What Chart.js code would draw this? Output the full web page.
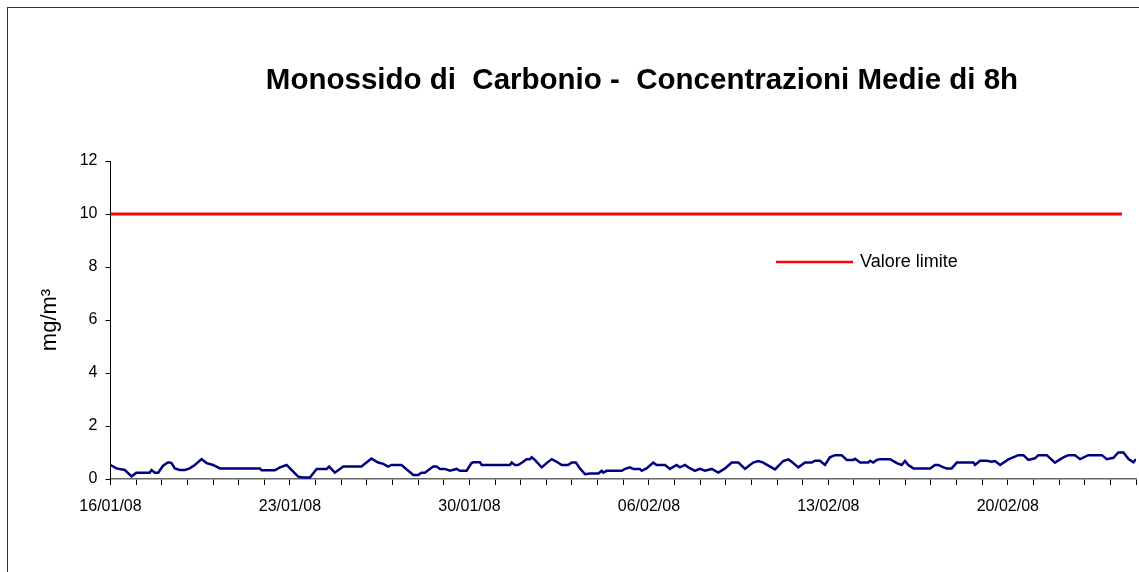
<!DOCTYPE html>
<html>
<head>
<meta charset="utf-8">
<script src="https://cdn.jsdelivr.net/npm/chart.js@4.4.1/dist/chart.umd.min.js"></script>
<style>
  html, body { margin: 0; padding: 0; background: #fff; }
  #wrap { position: relative; width: 1139px; height: 572px; }
</style>
</head>
<body>
<div id="wrap"><canvas id="c"></canvas></div>
<script>
// ---- data (x in days since 16/01/08) ----
const chartTitle = 'Monossido di  Carbonio -  Concentrazioni Medie di 8h';
const yAxisTitle = 'mg/m\u00B3';
const seriesName = 'CO';
const limitName = 'Valore limite';
const xTickLabels = ['16/01/08', '23/01/08', '30/01/08', '06/02/08', '13/02/08', '20/02/08'];
const yTicks = [0, 2, 4, 6, 8, 10, 12];

const coDays = [0,0.23,0.56,0.82,1.01,1.53,1.6,1.73,1.86,2.05,2.25,2.38,2.51,2.7,2.9,3.09,3.29,3.55,3.75,4,4.27,5.83,5.89,6.41,6.61,6.87,7.06,7.32,7.52,7.78,8.04,8.43,8.53,8.75,9.08,9.79,10.18,10.44,10.64,10.83,10.96,11.35,11.81,12,12.13,12.26,12.59,12.72,12.85,13.04,13.24,
13.5,13.63,13.89,14.08,14.15,14.41,14.48,15.58,15.65,15.77,15.9,16.1,16.23,16.36,16.43,16.55,16.82,17.01,17.21,17.4,17.6,17.85,17.99,18.15,18.31,18.51,18.7,19.03,19.16,19.22,19.35,19.94,20.07,20.26,20.39,20.65,20.72,20.91,21.17,21.3,21.63,21.82,22.08,22.21,22.41,22.54,22.8,22.99,23.19,23.45,23.71,23.97,24.23,24.49,24.75,24.94,25.07,25.27,25.46,25.85,
25.92,26.24,26.44,26.57,26.83,27.09,27.35,27.48,27.67,27.87,28.06,28.26,28.52,28.72,28.97,29.04,29.24,29.56,29.63,29.75,29.89,30.02,30.41,30.67,30.86,30.99,31.12,31.32,31.97,32.16,32.29,32.49,32.62,32.81,33.01,33.66,33.72,33.92,34.18,34.37,34.5,34.7,35.02,35.41,35.61,35.8,36.06,36.19,36.52,36.84,37.1,37.23,37.36,37.62,37.82,38.14,38.67,38.86,39.12,39.31,39.51,39.71,39.9,40];
const coValues = [0.53,0.40,0.34,0.10,0.24,0.24,0.34,0.24,0.24,0.50,0.63,0.60,0.40,0.34,0.34,0.40,0.53,0.75,0.60,0.53,0.40,0.40,0.33,0.33,0.44,0.53,0.34,0.09,0.06,0.06,0.38,0.38,0.47,0.24,0.47,0.47,0.77,0.62,0.57,0.47,0.53,0.53,0.15,0.15,0.24,0.24,0.47,0.47,0.38,0.38,0.31,
0.38,0.31,0.31,0.60,0.63,0.63,0.53,0.53,0.62,0.53,0.53,0.65,0.75,0.75,0.82,0.72,0.44,0.60,0.75,0.65,0.53,0.53,0.62,0.62,0.40,0.18,0.21,0.21,0.31,0.24,0.31,0.31,0.38,0.44,0.38,0.38,0.31,0.40,0.62,0.53,0.53,0.38,0.53,0.44,0.53,0.44,0.31,0.38,0.31,0.38,0.24,0.40,0.62,0.62,0.38,0.53,0.62,0.68,0.62,0.40,
0.36,0.68,0.74,0.65,0.44,0.62,0.62,0.69,0.69,0.53,0.82,0.90,0.90,0.72,0.72,0.76,0.62,0.62,0.69,0.62,0.72,0.75,0.75,0.60,0.53,0.68,0.53,0.40,0.40,0.53,0.53,0.44,0.40,0.40,0.62,0.62,0.53,0.69,0.69,0.65,0.68,0.53,0.74,0.90,0.90,0.72,0.78,0.90,0.90,0.62,0.78,0.84,0.90,0.90,0.75,0.90,0.90,0.75,0.80,1.00,1.00,0.75,0.63,0.75];

const limitDays = [0, 39.45];
const limitValues = [10, 10];

// ---- plugins: frame, title, legend ----
const decor = {
  id: 'decor',
  beforeDraw(chart) {
    const ctx = chart.ctx;
    ctx.save();
    ctx.fillStyle = '#fff';
    ctx.fillRect(0, 0, chart.width, chart.height);
    ctx.strokeStyle = '#333';
    ctx.lineWidth = 1;
    ctx.strokeRect(7.5, 7.5, chart.width + 20, chart.height + 20);
    ctx.restore();
  },
  afterDraw(chart) {
    const ctx = chart.ctx;
    ctx.save();
    ctx.fillStyle = '#000';
    ctx.font = 'bold 29.5px "Liberation Sans", Arial, sans-serif';
    ctx.textAlign = 'center';
    ctx.textBaseline = 'middle';
    ctx.fillText(chartTitle, 642, 81);
    // legend
    const ds = chart.data.datasets[1];
    ctx.strokeStyle = ds.borderColor;
    ctx.lineWidth = 2.5;
    ctx.beginPath();
    ctx.moveTo(776, 262);
    ctx.lineTo(853, 262);
    ctx.stroke();
    ctx.font = '18px "Liberation Sans", Arial, sans-serif';
    ctx.textAlign = 'left';
    ctx.fillText(ds.label, 860, 262);
    ctx.restore();
  }
};

new Chart(document.getElementById('c'), {
  type: 'line',
  data: {
    datasets: [
      {
        label: seriesName,
        data: coDays.map((d, i) => ({ x: d, y: coValues[i] })),
        borderColor: '#000080',
        borderWidth: 2.5,
        pointRadius: 0,
        tension: 0,
        fill: false
      },
      {
        label: limitName,
        data: limitDays.map((d, i) => ({ x: d, y: limitValues[i] })),
        borderColor: '#ff0000',
        borderWidth: 3,
        pointRadius: 0,
        tension: 0,
        fill: false
      }
    ]
  },
  options: {
    responsive: true,
    maintainAspectRatio: false,
    animation: false,
    layout: { padding: { top: 161, right: 3, left: 0, bottom: 0 } },
    plugins: {
      legend: { display: false },
      title: { display: false },
      tooltip: { enabled: false }
    },
    scales: {
      x: {
        type: 'linear',
        min: 0,
        max: 40,
        afterFit(scale) { scale.height = 93; scale.paddingLeft = 0; scale.paddingRight = 0; },
        afterBuildTicks(scale) {
          const t = [];
          for (let v = 0; v <= 40; v++) t.push({ value: v });
          scale.ticks = t;
        },
        ticks: {
          autoSkip: false,
          maxRotation: 0,
          padding: 12,
          color: '#000',
          font: { family: '"Liberation Sans", Arial, sans-serif', size: 16 },
          callback(v) { return (v % 7 === 0 && xTickLabels[v / 7]) ? xTickLabels[v / 7] : ''; }
        },
        grid: { display: true, drawOnChartArea: false, drawTicks: true, tickLength: 6, color: '#000', lineWidth: 1 },
        border: { display: true, color: '#666', width: 1.5 }
      },
      y: {
        min: 0,
        max: 12,
        afterFit(scale) { scale.width = 110.5; },
        afterBuildTicks(scale) { scale.ticks = yTicks.map(v => ({ value: v })); },
        ticks: {
          padding: 8,
          color: '#000',
          font: { family: '"Liberation Sans", Arial, sans-serif', size: 16 }
        },
        grid: { display: true, drawOnChartArea: false, drawTicks: true, tickLength: 5, color: '#000', lineWidth: 1 },
        border: { display: true, color: '#000', width: 1 },
        title: {
          display: true,
          text: yAxisTitle,
          color: '#000',
          padding: { top: 37, bottom: 0 },
          font: { family: '"Liberation Sans", Arial, sans-serif', size: 22 }
        }
      }
    }
  },
  plugins: [decor]
});
</script>
</body>
</html>
